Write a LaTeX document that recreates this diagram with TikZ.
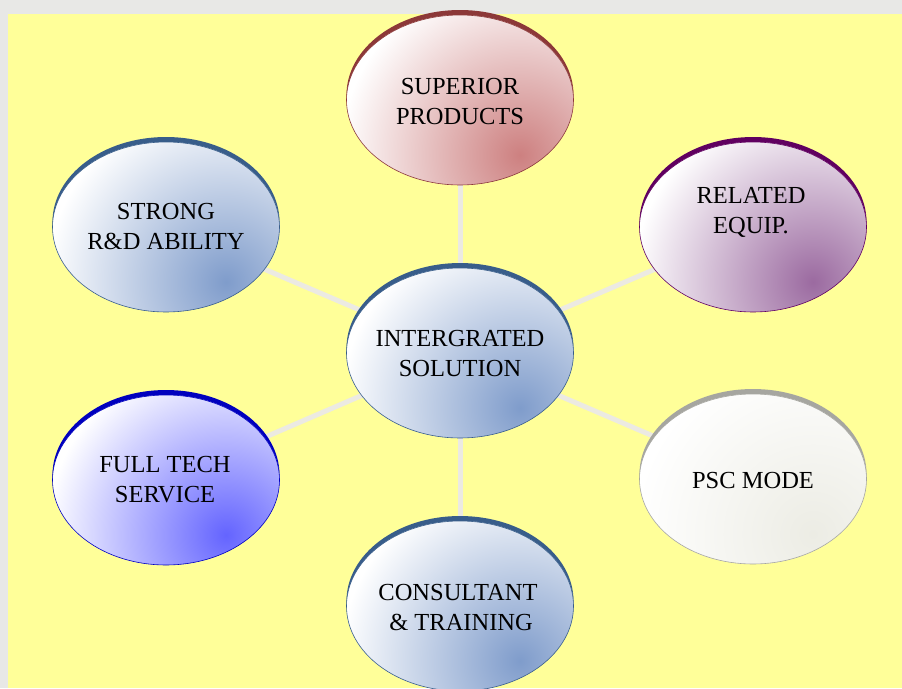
\documentclass[tikz,border=0pt]{standalone}
\usepackage{fontspec}
\setmainfont{Liberation Serif}
\usetikzlibrary{shapes.geometric,shadows,calc}
\pgfdeclarelayer{back}
\pgfdeclarelayer{bg}
\pgfsetlayers{back,bg,main}
\definecolor{paper}{RGB}{232,232,230}
\definecolor{yel}{RGB}{255,255,153}
\definecolor{linkc}{RGB}{236,234,226}
\definecolor{redB}{RGB}{140,56,56}
\definecolor{redF}{RGB}{205,128,128}
\definecolor{bluB}{RGB}{56,93,138}
\definecolor{bluF}{RGB}{127,156,203}
\definecolor{purB}{RGB}{96,0,96}
\definecolor{purF}{RGB}{155,106,160}
\definecolor{brtB}{RGB}{0,0,190}
\definecolor{brtF}{RGB}{100,100,255}
\definecolor{gryB}{RGB}{166,166,160}
\definecolor{gryF}{RGB}{236,236,228}
\tikzset{
  bubble/.style 2 args={ellipse, minimum width=227pt, minimum height=170pt, inner sep=0pt,
    draw=#1, line width=0.6pt,
    general shadow={fill=#1, shadow yshift=5pt},
    path picture={
      \fill[white] (path picture bounding box.south west) rectangle (path picture bounding box.north east);
      \shade[inner color=#2, outer color=white] ($(path picture bounding box.center)+(60,55)$) circle (180);
    }},
  lbl/.style={align=center, font=\fontsize{24.5}{30}\selectfont, inner sep=0pt, text=black},
  link/.style={draw=linkc, line width=5pt}
}
\begin{document}
\begin{tikzpicture}[x=1pt,y=-1pt]
\useasboundingbox (0,0) rectangle (902,688);
\begin{pgfonlayer}{back}
\fill[paper] (0,0) rectangle (902,688);
\fill[yel] (8,14) rectangle (902,688);
\end{pgfonlayer}
\node[bubble={bluB}{bluF}] (c) at (460,353) {};
\node[bubble={redB}{redF}] (sup) at (460,100) {};
\node[bubble={bluB}{bluF}] (rd) at (166,227) {};
\node[bubble={purB}{purF}] (rel) at (753,227) {};
\node[bubble={brtB}{brtF}] (full) at (166,480) {};
\node[bubble={gryB}{gryF}] (psc) at (753,479) {};
\node[bubble={bluB}{bluF}] (con) at (460,606) {};
\begin{pgfonlayer}{bg}
\draw[link] (c.center) -- (sup.center);
\draw[link] (c.center) -- (rd.center);
\draw[link] (c.center) -- (rel.center);
\draw[link] (c.center) -- (full.center);
\draw[link] (c.center) -- (psc.center);
\draw[link] (c.center) -- (con.center);
\end{pgfonlayer}
\node[lbl] (tc) at ($(c)+(0,1)$) {INTERGRATED\\SOLUTION};
\node[lbl] (tsup) at ($(sup)+(0,2)$) {SUPERIOR\\PRODUCTS};
\node[lbl] (trd) at ($(rd)+(0,0)$) {STRONG\\R\&D ABILITY};
\node[lbl] (trel) at ($(rel)+(-2,-15)$) {RELATED\\EQUIP.};
\node[lbl] (tfull) at ($(full)+(-1,0)$) {FULL TECH\\SERVICE};
\node[lbl] (tpsc) at ($(psc)+(0,2)$) {PSC MODE};
\node[lbl] (tcon) at ($(con)+(-2,2)$) {CONSULTANT\\\ \& TRAINING};
\end{tikzpicture}
\end{document}
